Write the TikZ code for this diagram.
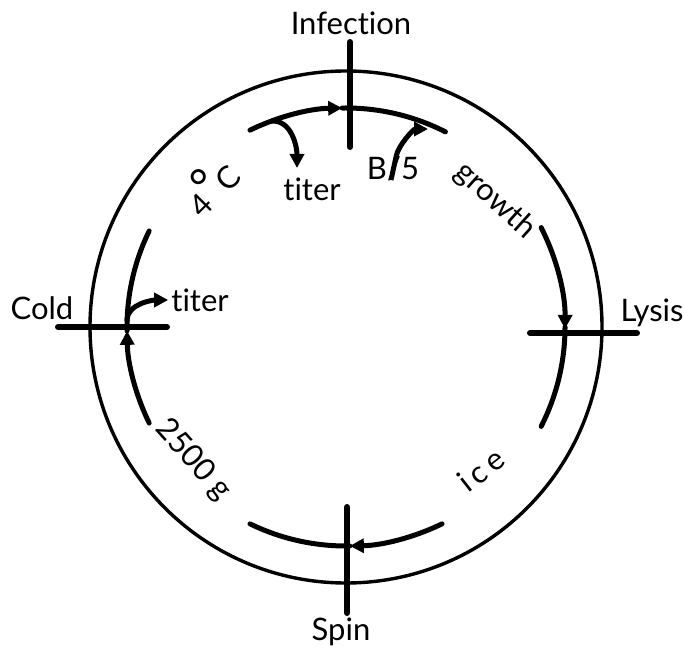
\documentclass[tikz,border=0pt]{standalone}
\usepackage{fontspec}
\setmainfont{Lato}[Ligatures=NoCommon]
\usetikzlibrary{arrows.meta}
\begin{document}
\begin{tikzpicture}[x=1pt,y=1pt,
  outer/.style={line width=3.4pt},
  inner/.style={line width=5pt},
  tick/.style={line width=6pt, line cap=round},
  flow/.style={line width=5pt, -{Triangle[length=14pt,width=14pt]}},
  lab/.style={font=\fontsize{31}{36}\selectfont, inner sep=0pt}]
\useasboundingbox (0,0) rectangle (684,648);
\coordinate (C) at (346,321);
% outer circle
\draw[outer] (C) circle[radius=256];
% ticks
\coordinate (inf1) at (350,606); \coordinate (inf2) at (350,501);
\coordinate (cold1) at (58,321); \coordinate (cold2) at (167,321);
\coordinate (lys1) at (530,315); \coordinate (lys2) at (637,315);
\coordinate (spin1) at (347,141); \coordinate (spin2) at (347,35);
\draw[tick] (inf1) -- (inf2);
\draw[tick] (cold1) -- (cold2);
\draw[tick] (lys1) -- (lys2);
\draw[tick] (spin1) -- (spin2);
% inner arcs
\draw[flow, line cap=round] ([shift={(116:219)}]C) arc[start angle=116, end angle=91, radius=219];
\draw[inner, line cap=round] ([shift={(91:219)}]C) arc[start angle=91, end angle=63, radius=219];
\draw[flow, line cap=round] ([shift={(27:219)}]C) arc[start angle=27, end angle=-0.5, radius=219];
\draw[inner, line cap=round] ([shift={(0:219)}]C) arc[start angle=0, end angle=-27, radius=219];
\draw[flow, line cap=round] ([shift={(-64:219)}]C) arc[start angle=-64, end angle=-89, radius=219];
\draw[inner, line cap=round] ([shift={(-89:219)}]C) arc[start angle=-89, end angle=-116, radius=219];
\draw[flow, line cap=round] ([shift={(206:219)}]C) arc[start angle=206, end angle=181, radius=219];
\draw[inner, line cap=round] ([shift={(181:219)}]C) arc[start angle=181, end angle=154, radius=219];
% labels
\node[lab] (infection) at (351,625) {Infection};
\node[lab] (cold) at (42,340) {Cold};
\node[lab] (lysis) at (652,335) {Lysis};
\node[lab] (spin) at (341,16) {Spin};
\node[lab] (titer1) at (312,459) {titer};
\node[lab] (b5) at (393,479) {B/5};
\node[lab] (titer2) at (200,348) {titer};
\node[lab, rotate=45] (fourc) at (209,463) {4\raisebox{.2em}{\scalebox{1.5}{°}}C};
\node[lab, rotate=-42] (growth) at (495,447) {growth};
\node[lab, rotate=38] (ice) at (481,178) {i\,c\,e};
\node[lab, rotate=-48] (g2500) at (193,188) {2500 g};
% side arrows
\coordinate (t1s) at ([shift={(110:219)}]C);
\coordinate (t1e) at (297,480);
\coordinate (t2s) at ([shift={(180:219)}]C);
\coordinate (b5e) at (428,519);
\draw[flow] (t1s) .. controls +(20,2) and +(0,22) .. (t1e);
\draw[flow] ([shift={(-2,-11)}]b5.center) -- ([shift={(3,12)}]b5.center) .. controls +(2,12) and +(-14,0) .. (b5e);
\draw[flow] ([shift={(0,6)}]t2s) .. controls +(0,18) and +(-14,0) .. ([shift={(-3,0)}]titer2.west);
\end{tikzpicture}
\end{document}
